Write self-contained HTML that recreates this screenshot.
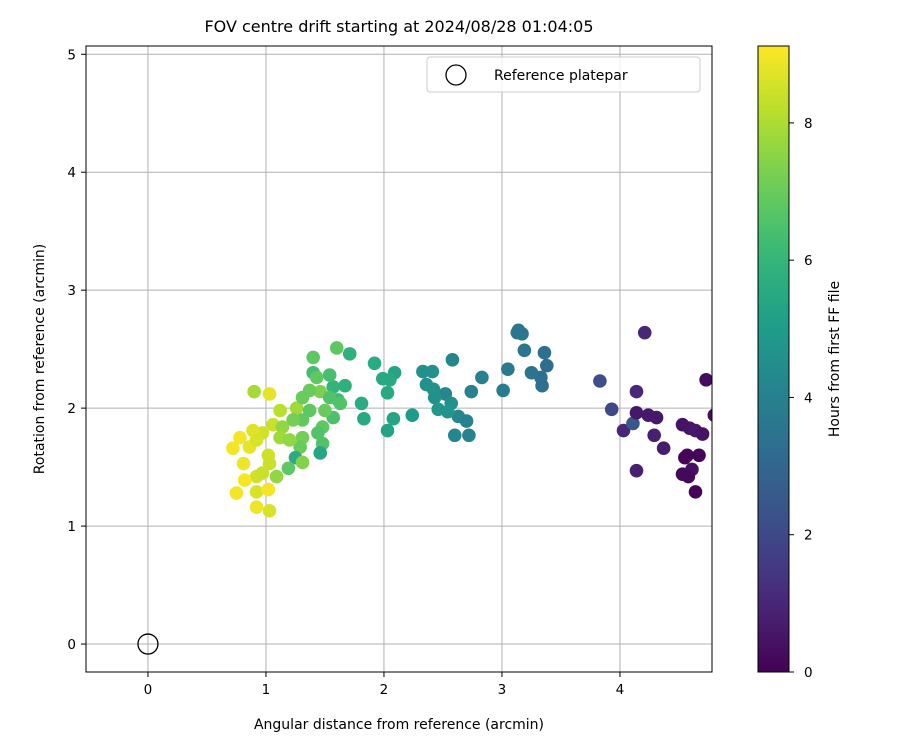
<!DOCTYPE html>
<html><head><meta charset="utf-8"><style>body{margin:0;background:#fff}svg{font-family:"DejaVu Sans","Liberation Sans",sans-serif}</style></head>
<body>
<svg id="chart" width="900" height="750" xmlns="http://www.w3.org/2000/svg">
<defs><linearGradient id="vg" x1="0" y1="1" x2="0" y2="0"></linearGradient>
<clipPath id="clip"><rect x="86" y="46" width="626" height="626"/></clipPath></defs>
<text x="399" y="32" text-anchor="middle" font-size="16">FOV centre drift starting at 2024/08/28 01:04:05</text>
<g id="grid"></g><g id="pts" clip-path="url(#clip)"></g><g id="ticks"></g>
<rect x="86" y="46" width="626" height="626" fill="none" stroke="#000" stroke-width="1"/>
<text x="399" y="729" text-anchor="middle" font-size="14">Angular distance from reference (arcmin)</text>
<text transform="translate(44,359) rotate(-90)" text-anchor="middle" font-size="14">Rotation from reference (arcmin)</text>
<g>
<rect x="427" y="57" width="273" height="35" rx="3" fill="#fff" fill-opacity="0.8" stroke="#ccc"/>
<circle cx="456" cy="75" r="10" fill="none" stroke="#000" stroke-width="1.3"/>
<text x="494" y="80" font-size="14">Reference platepar</text>
</g>
<rect x="758" y="46" width="31" height="626" fill="url(#vg)" stroke="#000" stroke-width="1"/>
<g id="cbt"></g>
<text transform="translate(839,359) rotate(-90)" text-anchor="middle" font-size="14">Hours from first FF file</text>
</svg>
<script>
const xTicks=[0,1,2,3,4];
const yTicks=[0,1,2,3,4,5];
const cbTicks=[0,2,4,6,8];
const xs=[4.21,3.83,3.93,4.03,4.11,4.14,4.14,4.14,4.24,4.31,4.29,4.37,4.53,4.59,4.64,4.70,4.57,4.67,4.53,4.61,4.58,4.64,4.73,4.80,4.55,
3.14,3.13,3.17,3.19,3.36,3.38,3.25,3.33,3.34,3.05,3.01,2.83,2.74,2.58,2.52,2.63,2.70,2.60,2.72,2.33,2.41,2.36,2.42,2.43,2.57,2.46,2.54,2.24,2.08,2.03,2.09,1.99,2.05,2.03,1.92,1.60,1.71,1.40,1.81,1.83,
0.90,1.03,1.12,1.06,1.26,1.40,1.43,1.57,1.61,1.46,1.31,1.54,1.37,1.57,1.48,1.31,1.23,1.14,1.12,1.31,1.48,1.46,1.29,1.25,1.31,1.19,1.09,0.97,0.89,0.78,0.72,0.86,0.92,0.81,1.02,1.03,0.92,0.97,0.75,0.92,1.02,0.92,1.03,
1.44,1.54,1.50,1.67,1.63,1.37,1.20,0.82];
const ys=[2.64,2.23,1.99,1.81,1.87,2.14,1.47,1.96,1.94,1.92,1.77,1.66,1.86,1.83,1.81,1.78,1.60,1.60,1.44,1.48,1.42,1.29,2.24,1.94,1.58,
2.66,2.64,2.63,2.49,2.47,2.36,2.30,2.26,2.19,2.33,2.15,2.26,2.14,2.41,2.12,1.93,1.89,1.77,1.77,2.31,2.31,2.20,2.16,2.09,2.04,1.99,1.97,1.94,1.91,1.81,2.30,2.25,2.24,2.13,2.38,2.51,2.46,2.43,2.04,1.91,
2.14,2.12,1.98,1.86,2.00,2.30,2.26,2.18,2.07,2.14,2.09,2.09,1.98,1.92,1.84,1.90,1.90,1.84,1.75,1.75,1.70,1.62,1.67,1.58,1.54,1.49,1.42,1.79,1.81,1.75,1.66,1.67,1.73,1.53,1.60,1.53,1.42,1.45,1.28,1.29,1.31,1.16,1.13,
1.79,2.28,1.98,2.19,2.04,2.15,1.73,1.39];
const hours=[1.0,2.2,2.0,1.0,2.5,1.0,0.8,0.6,0.6,0.6,0.8,0.7,0.5,0.5,0.6,0.5,0.2,0.1,0.2,0.4,0.2,0.1,0.3,0.3,0.1,
3.6,3.6,3.6,3.6,3.4,3.2,3.5,3.4,3.3,3.7,3.8,4.0,4.0,4.2,4.2,4.2,4.1,4.2,4.1,4.6,4.6,4.6,4.6,4.6,4.6,4.8,4.7,5.0,5.3,5.3,5.3,5.5,5.5,5.5,5.6,6.8,5.8,6.8,5.6,5.5,
7.9,8.8,8.2,8.4,7.8,6.3,6.8,6.0,6.2,7.3,7.0,6.6,6.8,6.5,6.8,6.9,7.2,7.6,7.8,7.2,6.6,5.4,7.0,5.6,7.4,6.8,7.6,8.5,8.7,9.0,9.0,8.8,8.6,8.9,8.5,8.4,8.5,8.4,9.0,8.6,9.0,8.9,8.6,
6.6,6.4,7.0,5.8,6.6,7.0,7.6,9.0];
const hMax=9.12;
const NS="http://www.w3.org/2000/svg";
const X0=86,X1=712,Y0=672,Y1=46,xmin=-0.525,xmax=4.78,ymin=-0.237,ymax=5.07;
function sx(v){return X0+(v-xmin)/(xmax-xmin)*(X1-X0);}
function sy(v){return Y0-(v-ymin)/(ymax-ymin)*(Y0-Y1);}
function cy(v){return 672-v/hMax*626;}
const vir=[[68,1,84],[72,40,120],[62,74,137],[49,104,142],[38,130,142],[31,158,137],[53,183,121],[109,205,89],[180,222,44],[253,231,37]];
function viridis(t){t=Math.max(0,Math.min(1,t));const p=t*9,i=Math.min(8,Math.floor(p)),f=p-i;const a=vir[i],b=vir[i+1];return `rgb(${a.map((c,k)=>Math.round(c+(b[k]-c)*f)).join(',')})`;}
function mk(tag,attrs,parent){const e=document.createElementNS(NS,tag);for(const k in attrs)e.setAttribute(k,attrs[k]);parent.appendChild(e);return e;}
const grad=document.getElementById('vg');
for(let i=0;i<=20;i++){mk('stop',{offset:i/20,'stop-color':viridis(i/20)},grad);}
const G=document.getElementById('grid'),T=document.getElementById('ticks'),P=document.getElementById('pts'),C=document.getElementById('cbt');
xTicks.forEach(v=>{const x=sx(v);
const l=mk('line',{x1:x,x2:x,y1:Y1,y2:Y0,stroke:'#b0b0b0','stroke-width':1},G);


mk('line',{x1:x,x2:x,y1:Y0,y2:Y0+5,stroke:'#000'},T);
const t=mk('text',{x:x,y:Y0+22,'text-anchor':'middle','font-size':13.5},T);t.textContent=v;

});
yTicks.forEach(v=>{const y=sy(v);
const l=mk('line',{x1:X0,x2:X1,y1:y,y2:y,stroke:'#b0b0b0','stroke-width':1},G);


mk('line',{x1:X0-5,x2:X0,y1:y,y2:y,stroke:'#000'},T);
const t=mk('text',{x:X0-10,y:y+5,'text-anchor':'end','font-size':13.5},T);t.textContent=v;

});
xs.forEach((v,i)=>{const c=mk('circle',{cx:sx(v),cy:sy(ys[i]),r:6.8,fill:viridis(hours[i]/hMax)},P);

});
const ref=mk('circle',{cx:sx(0),cy:sy(0),r:10,fill:'none',stroke:'#000','stroke-width':1.3},P);


cbTicks.forEach(v=>{const y=cy(v);
mk('line',{x1:789,x2:794,y1:y,y2:y,stroke:'#000'},C);
const t=mk('text',{x:804,y:y+5,'font-size':13.5},C);t.textContent=v;

});
</script>
</body></html>
